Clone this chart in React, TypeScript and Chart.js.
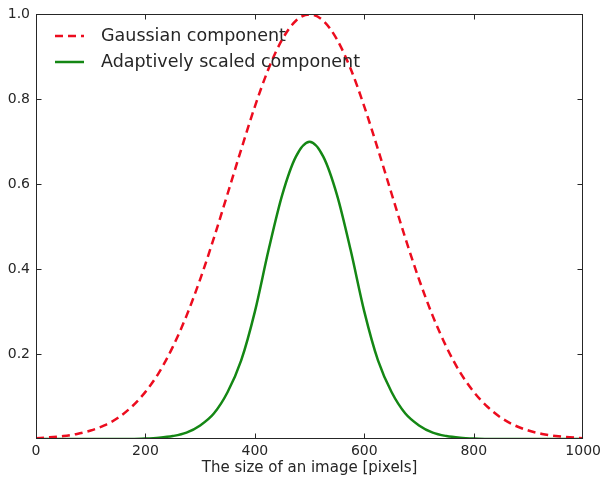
import React, { useEffect, useRef } from "react";
import { Chart, registerables } from "chart.js";

Chart.register(...registerables);

const xValues = [
  0, 25, 50, 75, 100, 125, 150, 175, 200, 225, 250, 275, 300, 325, 350, 375, 400, 425, 450, 475,
  500, 525, 550, 575, 600, 625, 650, 675, 700, 725, 750, 775, 800, 825, 850, 875, 900, 925, 950, 975, 1000,
];

const gaussian = [
  0.002, 0.004, 0.007, 0.012, 0.02, 0.032, 0.05, 0.076, 0.111, 0.157, 0.217, 0.29, 0.376, 0.473, 0.577, 0.682,
  0.783, 0.872, 0.941, 0.985, 1.0, 0.985, 0.941, 0.872, 0.783, 0.682, 0.577, 0.473, 0.376, 0.29, 0.217, 0.157,
  0.111, 0.076, 0.05, 0.032, 0.02, 0.012, 0.007, 0.004, 0.002,
];

const adaptive = [
  0, 0, 0, 0, 0, 0, 0, 0, 0.001, 0.003, 0.007, 0.015, 0.032, 0.06, 0.11, 0.185, 0.3, 0.445, 0.575, 0.665, 0.7,
  0.665, 0.575, 0.445, 0.3, 0.185, 0.11, 0.06, 0.032, 0.015, 0.007, 0.003, 0.001, 0, 0, 0, 0, 0, 0, 0, 0,
];

const seriesLabels = ["Gaussian component", "Adaptively scaled component"];
const xTitle = "The size of an image [pixels]";
const xTicks = [0, 200, 400, 600, 800, 1000];
const yTicks = [0.2, 0.4, 0.6, 0.8, 1.0];

const RED = "rgb(236,12,30)";
const GREEN = "rgb(20,135,20)";
const INK = "#262626";
const FONT = "'DejaVu Sans', sans-serif";

const framePlugin = {
  id: "frameTicks",
  afterDraw(chart: any) {
    const ctx = chart.ctx;
    const { left, right, top, bottom } = chart.chartArea;
    const xs = chart.scales.x;
    const ys = chart.scales.y;
    ctx.save();
    ctx.strokeStyle = INK;
    ctx.lineWidth = 1;
    const L = Math.round(left) + 0.5;
    const R = Math.round(right) - 0.5;
    const T = Math.round(top) + 0.5;
    const B = Math.round(bottom) - 0.5;
    ctx.strokeRect(L, T, R - L, B - T);
    ctx.beginPath();
    xTicks.slice(1, -1).forEach((v) => {
      const p = Math.round(xs.getPixelForValue(v)) + 0.5;
      ctx.moveTo(p, B);
      ctx.lineTo(p, B - 5);
      ctx.moveTo(p, T);
      ctx.lineTo(p, T + 5);
    });
    yTicks.slice(0, -1).forEach((v) => {
      const p = Math.round(ys.getPixelForValue(v)) + 0.5;
      ctx.moveTo(L, p);
      ctx.lineTo(L + 5, p);
      ctx.moveTo(R, p);
      ctx.lineTo(R - 5, p);
    });
    ctx.stroke();

    // legend (inside, top-left, no frame)
    const ds = chart.data.datasets;
    const rows = [36, 62];
    ds.forEach((d: any, i: number) => {
      const y = rows[i];
      ctx.beginPath();
      ctx.strokeStyle = d.borderColor;
      ctx.lineWidth = 2.5;
      ctx.setLineDash(d.borderDash || []);
      ctx.moveTo(55, y);
      ctx.lineTo(84, y);
      ctx.stroke();
      ctx.setLineDash([]);
      ctx.fillStyle = INK;
      ctx.font = `17.5px ${FONT}`;
      ctx.textBaseline = "middle";
      ctx.textAlign = "left";
      ctx.fillText(d.label, 101, y);
    });
    ctx.restore();
  },
};

export default function App() {
  const ref = useRef<HTMLCanvasElement | null>(null);
  useEffect(() => {
    if (!ref.current) return;
    const chart = new Chart(ref.current, {
      type: "line",
      data: {
        datasets: [
          {
            label: seriesLabels[0],
            data: xValues.map((x, i) => ({ x, y: gaussian[i] })),
            borderColor: RED,
            borderWidth: 2.5,
            borderDash: [8, 5],
            pointRadius: 0,
            cubicInterpolationMode: "monotone",
            fill: false,
          },
          {
            label: seriesLabels[1],
            data: xValues.map((x, i) => ({ x, y: adaptive[i] })),
            borderColor: GREEN,
            borderWidth: 2.5,
            pointRadius: 0,
            cubicInterpolationMode: "monotone",
            fill: false,
          },
        ],
      },
      options: {
        animation: false,
        responsive: false,
        layout: { padding: { top: 14, right: 21, left: 0, bottom: 0 } },
        plugins: {
          legend: { display: false },
          tooltip: { enabled: false },
          title: { display: false },
        },
        scales: {
          x: {
            type: "linear",
            min: 0,
            max: 1000,
            afterBuildTicks: (s: any) => {
              s.ticks = xTicks.map((v) => ({ value: v }));
            },
            ticks: {
              color: INK,
              font: { family: FONT, size: 14 },
              padding: 4,
              maxRotation: 0,
              autoSkip: false,
              callback: (v: any) => String(v),
            },
            grid: { display: false, drawTicks: false },
            border: { display: false },
            title: {
              display: true,
              text: xTitle,
              color: INK,
              font: { family: FONT, size: 15 },
              padding: { top: 0, bottom: 1 },
            },
            afterFit: (s: any) => {
              s.height = 39;
            },
          },
          y: {
            type: "linear",
            min: 0,
            max: 1,
            afterBuildTicks: (s: any) => {
              s.ticks = yTicks.map((v) => ({ value: v }));
            },
            ticks: {
              color: INK,
              font: { family: FONT, size: 14 },
              padding: 6,
              autoSkip: false,
              callback: (v: any) => Number(v).toFixed(1),
            },
            grid: { display: false, drawTicks: false },
            border: { display: false },
            afterFit: (s: any) => {
              s.width = 36;
            },
          },
        },
      },
      plugins: [framePlugin],
    });
    return () => chart.destroy();
  }, []);
  return (
    <div style={{ position: "absolute", left: 0, top: 0, width: 605, height: 478, background: "#fff" }}>
      <canvas ref={ref} width={605} height={478} style={{ width: 605, height: 478, display: "block" }} />
    </div>
  );
}
